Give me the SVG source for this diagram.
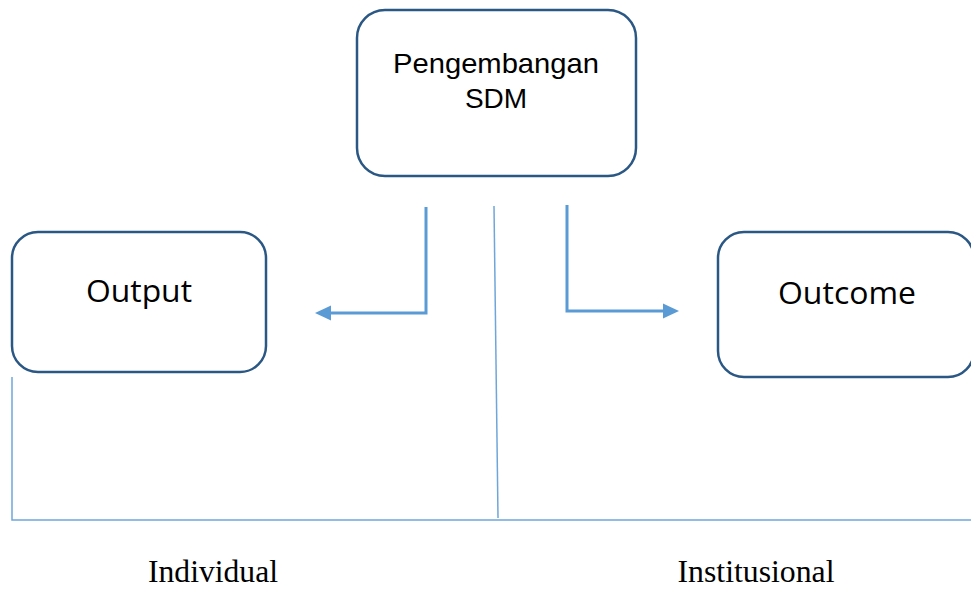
<svg xmlns="http://www.w3.org/2000/svg" width="971" height="590" viewBox="0 0 971 590">
<style>
.box{fill:#fff;stroke:#2A5783;stroke-width:2.5}
.arr{fill:none;stroke:#5B9BD5;stroke-width:3}
.thin{fill:none;stroke:#6FA6DA;stroke-width:1.5}
.sans{font-family:"Liberation Sans",Arial,sans-serif;fill:#000}
.cal{font-family:"Open Sans","Noto Sans",sans-serif;fill:#000}
.ser{font-family:"Liberation Serif","Times New Roman",serif;fill:#000}
</style>
<rect width="971" height="590" fill="#fff"/>
<g id="connectors">
<path class="arr" d="M426,207 V313 H330"/>
<path d="M315,313 L331,305.5 L331,320.5 Z" fill="#5B9BD5"/>
<path class="arr" d="M567,205 V311 H664"/>
<path d="M679,311 L663,303.5 L663,318.5 Z" fill="#5B9BD5"/>
<path class="thin" d="M494,206 L498,518"/>
<path class="thin" d="M12,377 V520 H971"/>
</g>
<g id="node-pengembangan">
<rect class="box" x="357" y="10" width="279" height="166" rx="28"/>
<text class="sans" x="496" y="73" font-size="28" text-anchor="middle" textLength="206" lengthAdjust="spacingAndGlyphs">Pengembangan</text>
<text class="sans" x="496" y="108" font-size="28" text-anchor="middle">SDM</text>
</g>
<g id="node-output">
<rect class="box" x="12" y="232" width="254" height="140" rx="26"/>
<text class="cal" x="139" y="302" font-size="31" text-anchor="middle" textLength="106" lengthAdjust="spacingAndGlyphs">Output</text>
</g>
<g id="node-outcome">
<rect class="box" x="718" y="232" width="256" height="145" rx="26"/>
<text class="cal" x="847" y="304" font-size="31" text-anchor="middle" textLength="138" lengthAdjust="spacingAndGlyphs">Outcome</text>
</g>
<g id="labels">
<text class="ser" x="213" y="582" font-size="31" text-anchor="middle" textLength="130" lengthAdjust="spacingAndGlyphs">Individual</text>
<text class="ser" x="756" y="582" font-size="31" text-anchor="middle" textLength="157" lengthAdjust="spacingAndGlyphs">Institusional</text>
</g>
</svg>
